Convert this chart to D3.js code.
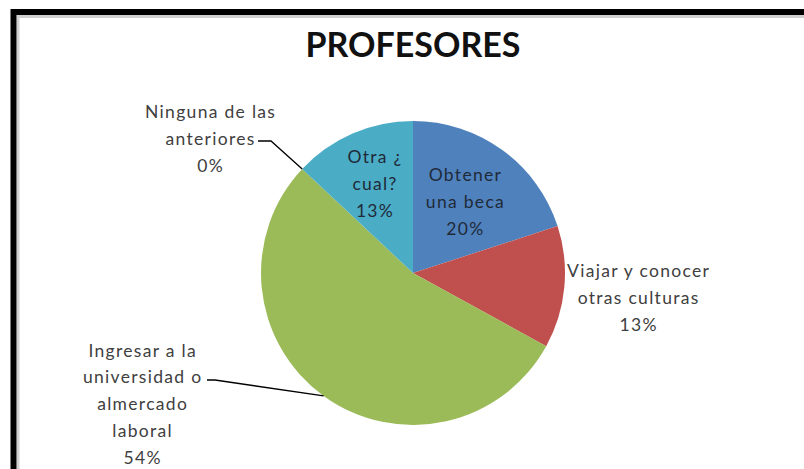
<!DOCTYPE html>
<html>
<head>
<meta charset="utf-8">
<script src="https://cdn.jsdelivr.net/npm/d3@7"></script>
<style>
  body { margin: 0; background: #fff; }
  svg { display: block; }
  text { font-family: Lato, "Open Sans", sans-serif; }
</style>
</head>
<body>
<div id="chart"></div>
<script>
var width = 804;
var height = 469;

// data
var categories = ["Obtener una beca", "Viajar y conocer otras culturas",
  "Ingresar a la universidad o almercado laboral", "Ninguna de las anteriores", "Otra ¿ cual?"];
var values = [20, 13, 54, 0, 13];
var labelLines = [
  ["Obtener", "una beca"],
  ["Viajar y conocer", "otras culturas"],
  ["Ingresar a la", "universidad o", "almercado", "laboral"],
  ["Ninguna de las", "anteriores"],
  ["Otra ¿", "cual?"]
];
var colors = ["#4F81BD", "#C0504D", "#9BBB59", "#8064A2", "#4BACC6"];

var cx = 413, cy = 273, radius = 152;

var svg = d3.select("#chart").append("svg")
  .attr("width", width)
  .attr("height", height);

svg.append("rect").attr("width", width).attr("height", height).attr("fill", "#fff");

// frame (cropped on right and bottom)
svg.append("path")
  .attr("d", "M18,475 V16.5 H810")
  .attr("fill", "none").attr("stroke", "#d0d0d0").attr("stroke-width", 3);
svg.append("path")
  .attr("d", "M13.5,475 V12 H810")
  .attr("fill", "none").attr("stroke", "#000").attr("stroke-width", 6);

svg.append("text")
  .attr("x", cx).attr("y", 57)
  .attr("text-anchor", "middle")
  .attr("font-size", 34).attr("font-weight", "bold")
  .attr("fill", "#111")
  .text("PROFESORES");

var pie = d3.pie().sort(null).value(function(d) { return d; });
var arcs = pie(values);
var arc = d3.arc().innerRadius(0).outerRadius(radius);

var g = svg.append("g").attr("transform", "translate(" + cx + "," + cy + ")");

g.selectAll("path.slice")
  .data(arcs)
  .enter().append("path")
  .attr("class", "slice")
  .attr("d", arc)
  .attr("fill", function(d, i) { return colors[i]; });

function pct(v) {
  var total = d3.sum(values);
  return Math.round(v / total * 100) + "%";
}

function pointAt(angle, r) {
  return [r * Math.sin(angle), -r * Math.cos(angle)];
}

// label placement: inside (radius factor on the slice mid-angle) or outside (offset position)
var labelLayout = [
  { inside: true, r: 0.58 },
  { inside: false, x: 225, y: 25 },
  { inside: false, x: -271, y: 131, leaderFrom: [-206, 107], leaderMid: [-198, 107] },
  { inside: false, x: -203, y: -134, leaderFrom: [-155, -132], leaderMid: [-142, -132] },
  { inside: true, r: 0.64 }
];

var lineH = 26.7;

arcs.forEach(function(d, i) {
  var lay = labelLayout[i];
  var mid = (d.startAngle + d.endAngle) / 2;
  var pos, fill;
  if (lay.inside) {
    pos = pointAt(mid, radius * lay.r);
    fill = "#1f2a38";
  } else {
    pos = [lay.x, lay.y];
    fill = "#404040";
  }
  var lines = labelLines[i].concat([pct(values[i])]);
  var startY = pos[1] - (lines.length - 1) * lineH / 2;
  var t = g.append("text")
    .attr("text-anchor", "middle")
    .attr("font-size", 17.5)
    .attr("letter-spacing", 1.3)
    .attr("fill", fill);
  lines.forEach(function(s, k) {
    t.append("tspan")
      .attr("x", pos[0] + 0.65)
      .attr("y", startY + k * lineH)
      .attr("dy", "0.35em")
      .text(s);
  });
  if (lay.leaderFrom) {
    var end = pointAt(mid, radius);
    g.append("polyline")
      .attr("points", [lay.leaderFrom, lay.leaderMid, end].map(function(p) { return p.join(","); }).join(" "))
      .attr("fill", "none")
      .attr("stroke", "#000")
      .attr("stroke-width", 1.3);
  }
});
</script>
</body>
</html>
